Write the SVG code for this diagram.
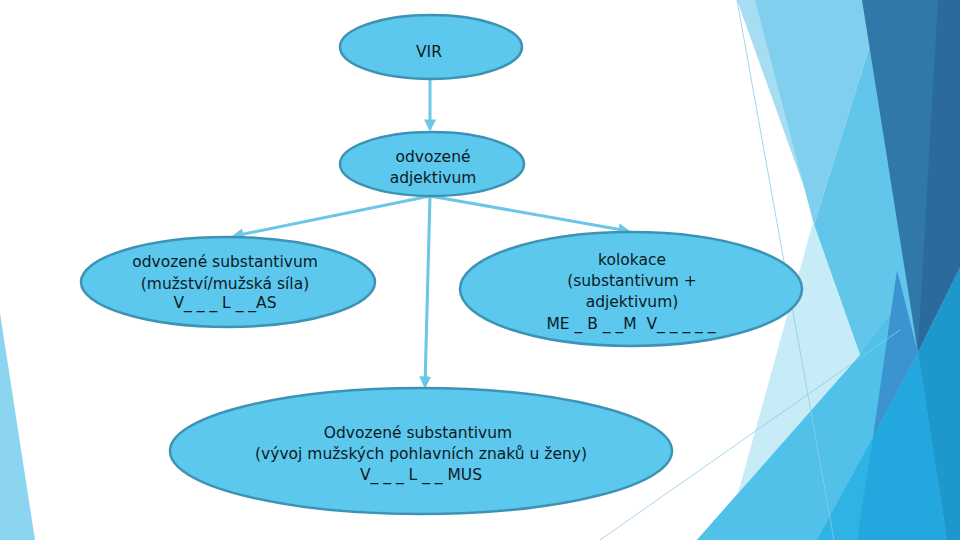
<svg xmlns="http://www.w3.org/2000/svg" width="960" height="540" viewBox="0 0 960 540">
<defs>
<style>
.node ellipse{fill:#5cc8ee;stroke:#3d93b4;stroke-width:2.5}
.node text{font-family:"DejaVu Sans","Liberation Sans",sans-serif;font-size:15.5px;fill:#0f1a24;text-anchor:middle;white-space:pre}
.conn line{stroke:#6cc6e6;stroke-width:3;fill:none}
.thin{stroke:#8ccde6;stroke-width:0.8;fill:none}
</style>
<marker id="arr" viewBox="0 0 10 10" refX="8" refY="5" markerWidth="4" markerHeight="4" orient="auto" markerUnits="strokeWidth">
<path d="M0,0 L10,5 L0,10 z" fill="#6cc6e6"/>
</marker>
</defs>
<rect width="960" height="540" fill="#ffffff"/>
<g id="background">
<polygon points="0,313 35,540 0,540" fill="#8cd5f0"/>
<polygon points="737,0 757,0 805,190" fill="#a6ddf3"/>
<polygon points="755,0 884,0 814,225" fill="#80cfee"/>
<polygon points="814,225 884,0 960,0 960,540 697,540 860,355" fill="#62c6ea"/>
<polygon points="813,222 860,355 737,497" fill="#c8ebf8"/>
<polygon points="860,355 897,305 905,300 873,437 817,540 697,540" fill="#52c1ea"/>
<polygon points="897,270 918,353 873,437" fill="#3b94d0"/>
<polygon points="873,437 817,540 860,540" fill="#2fb3e4"/>
<polygon points="918,353 873,437 857,540 947,540" fill="#22a8df"/>
<polygon points="862,0 960,0 960,267 918,353" fill="#3078aa"/>
<polygon points="938,0 960,0 960,267 918,350" fill="#2a6a9c"/>
<polygon points="918,353 960,267 960,540 947,540" fill="#1e98cc"/>
<line class="thin" x1="737" y1="0" x2="834" y2="540"/>
<line class="thin" x1="600" y1="540" x2="900" y2="330"/>
</g>
<g id="connectors" class="conn">
<line x1="430" y1="80" x2="430" y2="129" marker-end="url(#arr)"/>
<line x1="430" y1="196" x2="234" y2="236" marker-end="url(#arr)"/>
<line x1="430" y1="196" x2="628" y2="231" marker-end="url(#arr)"/>
<line x1="430" y1="196" x2="425" y2="386" marker-end="url(#arr)"/>
</g>
<g id="n-vir" class="node">
<ellipse cx="431" cy="47" rx="91" ry="32"/>
<text x="429" y="57">VIR</text>
</g>
<g id="n-adj" class="node">
<ellipse cx="432" cy="164" rx="92" ry="32"/>
<text x="433" y="162">odvozené</text>
<text x="433" y="183">adjektivum</text>
</g>
<g id="n-left" class="node">
<ellipse cx="228" cy="282" rx="147" ry="45"/>
<text x="225" y="267">odvozené substantivum</text>
<text x="225" y="289">(mužství/mužská síla)</text>
<text x="225" y="308">V_ _ _ L _ _AS</text>
</g>
<g id="n-right" class="node">
<ellipse cx="631" cy="289" rx="171" ry="57"/>
<text x="632" y="265">kolokace</text>
<text x="632" y="286">(substantivum +</text>
<text x="632" y="307">adjektivum)</text>
<text x="631" y="329">ME _ B _ _M  V_ _ _ _ _</text>
</g>
<g id="n-bottom" class="node">
<ellipse cx="421" cy="451" rx="251" ry="63"/>
<text x="418" y="438">Odvozené substantivum</text>
<text x="421" y="459">(vývoj mužských pohlavních znaků u ženy)</text>
<text x="421" y="480">V_ _ _ L _ _ MUS</text>
</g>
</svg>
